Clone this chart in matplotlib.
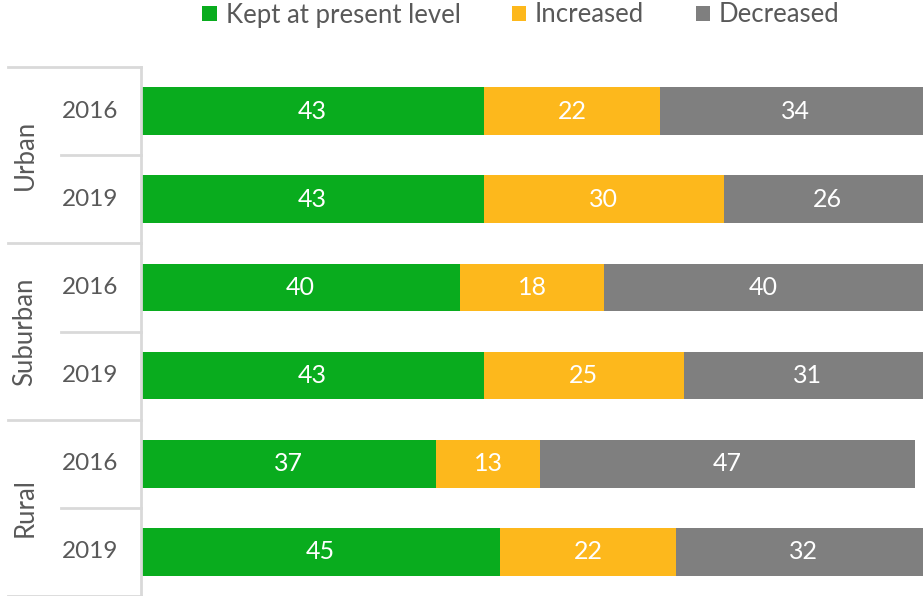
import matplotlib
matplotlib.use("Agg")
import matplotlib.pyplot as plt
from matplotlib.lines import Line2D
from matplotlib.patches import Patch
from matplotlib.transforms import blended_transform_factory

plt.rcParams['font.family'] = ['Lato', 'DejaVu Sans']

groups = ["Urban", "Suburban", "Rural"]
years = ["2016", "2019"]
kept = [43, 43, 40, 43, 37, 45]
increased = [22, 30, 18, 25, 13, 22]
decreased = [34, 26, 40, 31, 47, 32]
series_names = ["Kept at present level", "Increased", "Decreased"]
colors = ["#09AC1E", "#FDB81C", "#7F7F7F"]

W, H = 923, 596
fig = plt.figure(figsize=(W / 100, H / 100), dpi=100)
ax = fig.add_axes([141 / W, 0, (W - 141) / W, (H - 67) / H])

rows = list(range(len(kept)))
lefts = [0] * len(kept)
text_color = "#595959"
for vals, name, col in zip([kept, increased, decreased], series_names, colors):
    ax.barh(rows, vals, left=lefts, height=0.54, color=col, label=name)
    for r, (l, v) in enumerate(zip(lefts, vals)):
        ax.text(l + v / 2, r, f"{v}", ha="center", va="center", color="white",
                fontsize=18, clip_on=False)
    lefts = [l + v for l, v in zip(lefts, vals)]

ax.set_xlim(0, (W - 141) / 7.98)
ax.set_ylim(len(kept) - 0.5, -0.5)
ax.set_xticks([])
ax.set_yticks([])
for s in ["top", "right", "bottom"]:
    ax.spines[s].set_visible(False)
ax.spines["left"].set_color("#D9D9D9")
ax.spines["left"].set_linewidth(2)

# category table on the left
tr = blended_transform_factory(fig.transFigure, ax.transData)
sep_color = "#D9D9D9"
for b in [-0.5, 1.5, 3.5, 5.5]:
    fig.add_artist(Line2D([8 / W, 141 / W], [b, b], transform=tr, color=sep_color,
                          lw=2, clip_on=False))
for b in [0.5, 2.5, 4.5]:
    fig.add_artist(Line2D([61 / W, 141 / W], [b, b], transform=tr, color=sep_color,
                          lw=2, clip_on=False))
for r in rows:
    fig.text(90 / W, r, years[r % 2], transform=tr, ha="center", va="center",
             fontsize=17.5, color=text_color)
for g, name in enumerate(groups):
    fig.text(25 / W, 2 * g + 0.5, name, transform=tr, ha="center", va="center",
             rotation=90, fontsize=18.5, color=text_color)

handles = [Patch(facecolor=c, edgecolor="none") for c in colors]
fig.legend(handles, series_names, loc="center", bbox_to_anchor=(521 / W, 1 - 15 / H),
           ncol=3, frameon=False, fontsize=18.5, labelcolor=text_color,
           handlelength=0.55, handleheight=0.55, handletextpad=0.35, columnspacing=2.0)

fig.savefig("out.png", dpi=100)
